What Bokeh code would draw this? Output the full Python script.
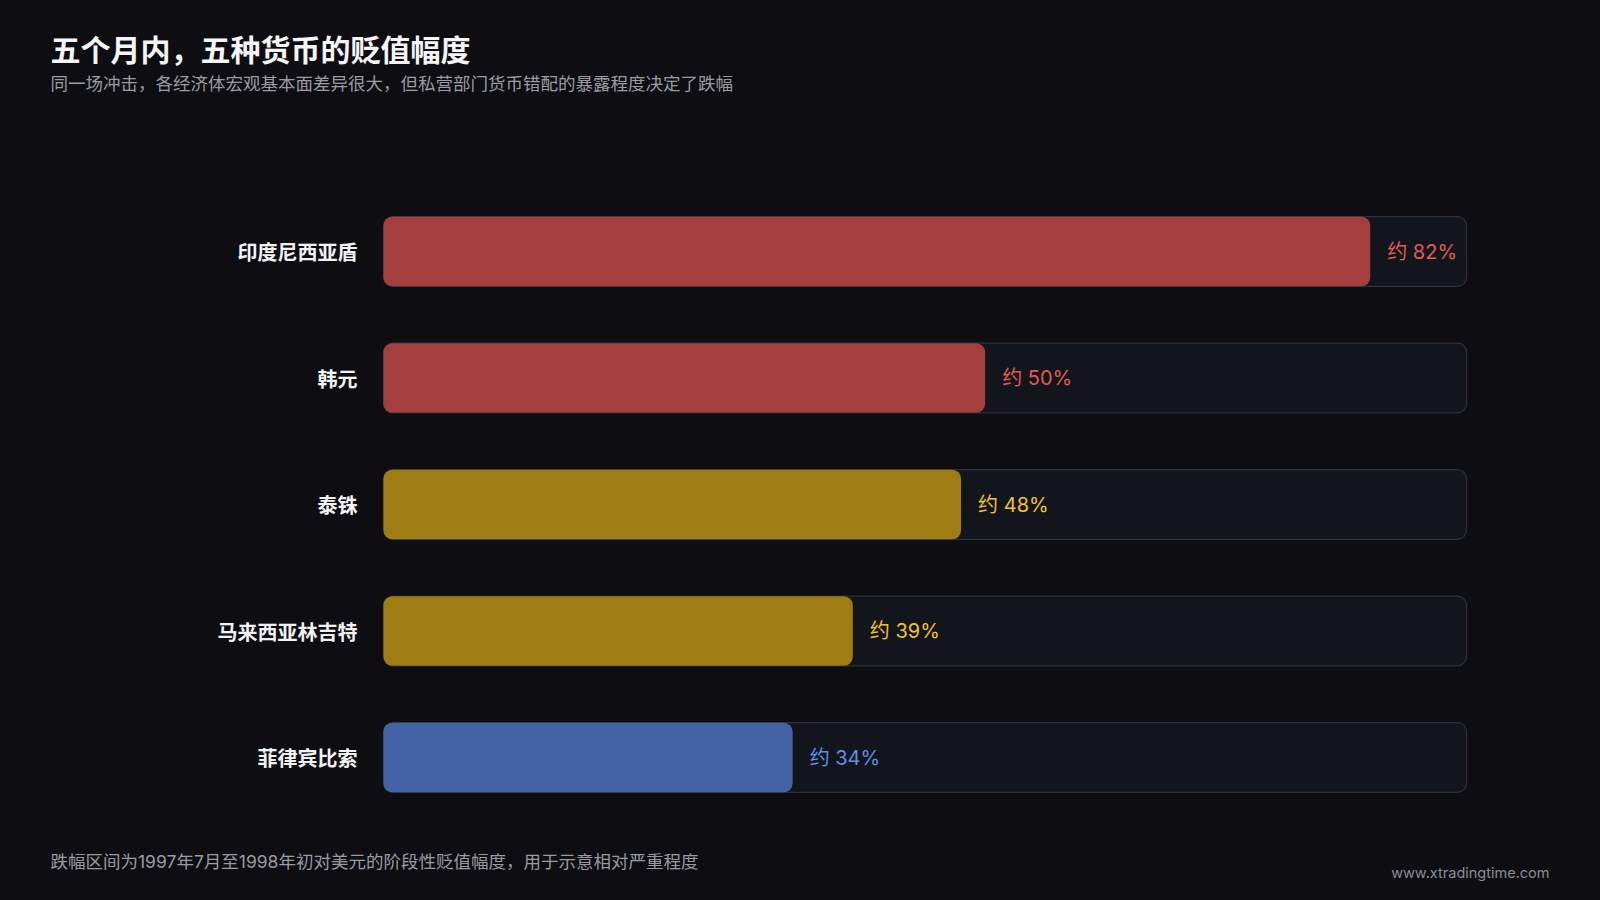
from bokeh.plotting import figure
from bokeh.models import Range1d, Label, ColumnDataSource
from bokeh.core.properties import value
from bokeh.embed import file_html
from bokeh.resources import INLINE

# ---- data ----
currencies = ["印度尼西亚盾", "韩元", "泰铢", "马来西亚林吉特", "菲律宾比索"]
depreciation = [82, 50, 48, 39, 34]
value_labels = ["约 82%", "约 50%", "约 48%", "约 39%", "约 34%"]
scale_max = 90
title_text = "五个月内，五种货币的贬值幅度"
subtitle_text = "同一场冲击，各经济体宏观基本面差异很大，但私营部门货币错配的暴露程度决定了跌幅"
footer_text = "跌幅区间为1997年7月至1998年初对美元的阶段性贬值幅度，用于示意相对严重程度"
site_text = "www.xtradingtime.com"

# ---- styles / layout ----
BG = "#0d0d12"
FONT = "Noto Sans CJK SC"
MIX_FONT = "Inter, 'Noto Sans CJK SC'"
bar_colors = ["#a33f3f", "#a33f3f", "#a07c14", "#a07c14", "#4363a6"]
text_colors = ["#e45a55", "#e45a55", "#f2c12e", "#f2c12e", "#5e90e8"]

W, H = 1600, 900
TRACK_L, TRACK_R = 383, 1466          # pixel extent of the 0..scale_max track
ROW0_Y, ROW_STEP = 251, 126.5         # pixel centre of first row, row pitch
px_per_unit = (TRACK_R - TRACK_L) / scale_max
n = len(currencies)
ypos = [n - 1 - i for i in range(n)]  # first category at top

x_range = Range1d(-TRACK_L / px_per_unit, scale_max + (W - TRACK_R) / px_per_unit)
y_top = (n - 1) + ROW0_Y / ROW_STEP
y_range = Range1d(y_top - H / ROW_STEP, y_top)

p = figure(width=W, height=H, output_backend="svg", toolbar_location=None,
           x_range=x_range, y_range=y_range,
           min_border=0, min_border_left=0, min_border_right=0,
           min_border_top=0, min_border_bottom=0)
p.background_fill_color = BG
p.border_fill_color = BG
p.outline_line_color = None
p.xgrid.visible = False
p.ygrid.visible = False
p.xaxis.visible = False
p.yaxis.visible = False

src = ColumnDataSource(dict(
    cat=currencies, y=ypos, val=depreciation, lab=value_labels,
    zero=[0] * n, track=[scale_max] * n,
    bar_color=bar_colors, text_color=text_colors))

p.hbar(y="y", left=0, right="track", height=0.55, source=src,
       fill_color="#12151c", line_color="#2e323a", line_width=1.3,
       border_radius=9)
p.hbar(y="y", left=0, right="val", height=0.55, source=src,
       fill_color="bar_color", line_color=None, border_radius=9)
p.text(x="val", y="y", text="lab", source=src, x_offset=17,
       text_baseline="middle", text_align="left", text_color="text_color",
       text_font=value(MIX_FONT), text_font_size="20px")
p.text(x="zero", y="y", text="cat", source=src, x_offset=-26,
       text_baseline="middle", text_align="right", text_color="#f2f2f4",
       text_font=value(FONT), text_font_size="20px", text_font_style="bold")

def add_label(txt, x, y_from_top, size, color, style="normal", align="left", font=FONT):
    p.add_layout(Label(x=x, y=H - y_from_top, x_units="screen", y_units="screen",
                       text=txt, text_font=font, text_font_size=size,
                       text_color=color, text_font_style=style,
                       text_baseline="middle", text_align=align))

add_label(title_text, 50, 47, "30px", "#f5f5f7", "bold")
add_label(subtitle_text, 50, 82, "17.5px", "#9b9ca2")
add_label(footer_text, 50, 861, "17.5px", "#9a9ba0", font=MIX_FONT)
add_label(site_text, 1549, 872, "14.5px", "#8c8d92", align="right", font=MIX_FONT)

html = file_html(p, INLINE)
html = html.replace("<head>", "<head><style>html,body{background:%s;margin:0;padding:0;overflow:hidden;}</style>" % BG, 1)
open("out.html", "w").write(html)
